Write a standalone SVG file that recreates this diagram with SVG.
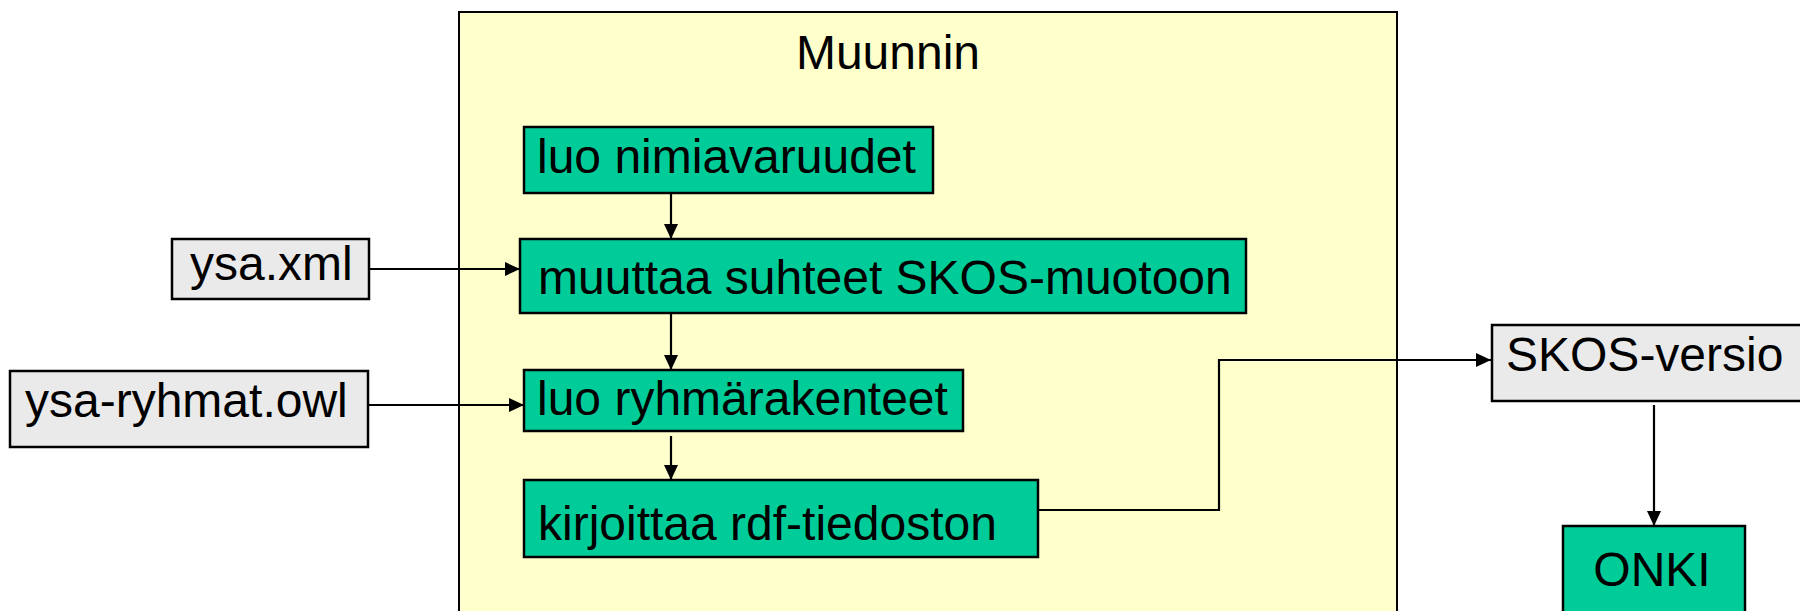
<svg xmlns="http://www.w3.org/2000/svg" width="1800" height="611" viewBox="0 0 1800 611">
<style>
.bg{fill:#ffffff}
.frame{fill:#ffffcc;stroke:#000;stroke-width:2}
.step{fill:#00cc99;stroke:#000;stroke-width:2.5}
.file{fill:#eaeaea;stroke:#000;stroke-width:2.5}
.lbl{font-family:"Liberation Sans",Arial,sans-serif;font-size:48px;fill:#000}
.conn{fill:none;stroke:#000;stroke-width:2.2}
</style>
<defs>
<marker id="ah" markerUnits="userSpaceOnUse" markerWidth="16" markerHeight="16" refX="15" refY="7" orient="auto" viewBox="0 0 16 14">
<path d="M0,0 L15,7 L0,14 z" fill="#000"/>
</marker>
</defs>
<rect class="bg" x="0" y="0" width="1800" height="611"/>
<g id="muunnin">
<rect class="frame" x="459" y="12" width="938" height="640"/>
<text class="lbl" x="888" y="69" text-anchor="middle">Muunnin</text>
</g>
<g id="luo-nimiavaruudet">
<rect class="step" x="524" y="127" width="409" height="66"/>
<text class="lbl" x="537" y="173">luo nimiavaruudet</text>
</g>
<g id="muuttaa">
<rect class="step" x="520" y="239" width="726" height="74"/>
<text class="lbl" x="538" y="294">muuttaa suhteet SKOS-muotoon</text>
</g>
<g id="luo-ryhmarakenteet">
<rect class="step" x="524" y="370" width="439" height="61"/>
<text class="lbl" x="537" y="415">luo ryhmärakenteet</text>
</g>
<g id="kirjoittaa">
<rect class="step" x="524" y="480" width="514" height="77"/>
<text class="lbl" x="538" y="540">kirjoittaa rdf-tiedoston</text>
</g>
<g id="ysa-xml">
<rect class="file" x="172" y="239" width="197" height="60"/>
<text class="lbl" x="190" y="280">ysa.xml</text>
</g>
<g id="ysa-ryhmat">
<rect class="file" x="10" y="371" width="358" height="76"/>
<text class="lbl" x="25" y="417">ysa-ryhmat.owl</text>
</g>
<g id="skos-versio">
<rect class="file" x="1492" y="325" width="330" height="76"/>
<text class="lbl" x="1506" y="371">SKOS-versio</text>
</g>
<g id="onki">
<rect class="step" x="1563" y="526" width="182" height="110"/>
<text class="lbl" x="1652" y="586" text-anchor="middle">ONKI</text>
</g>
<g id="connectors">
<line class="conn" x1="671" y1="193" x2="671" y2="239" marker-end="url(#ah)"/>
<line class="conn" x1="671" y1="313" x2="671" y2="370" marker-end="url(#ah)"/>
<line class="conn" x1="671" y1="436" x2="671" y2="480" marker-end="url(#ah)"/>
<line class="conn" x1="369" y1="269" x2="520" y2="269" marker-end="url(#ah)"/>
<line class="conn" x1="368" y1="405" x2="524" y2="405" marker-end="url(#ah)"/>
<polyline class="conn" points="1038,510 1219,510 1219,360 1491,360" marker-end="url(#ah)"/>
<line class="conn" x1="1654" y1="405" x2="1654" y2="526" marker-end="url(#ah)"/>
</g>
</svg>
